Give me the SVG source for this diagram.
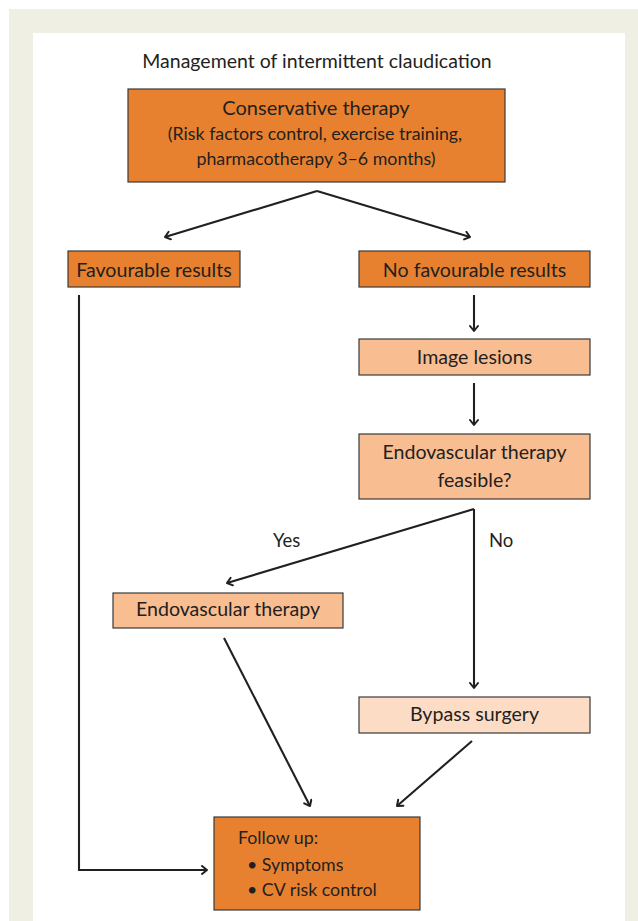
<svg xmlns="http://www.w3.org/2000/svg" width="638" height="921" viewBox="0 0 638 921">
<defs>
<marker id="ah" markerUnits="userSpaceOnUse" markerWidth="12" markerHeight="12" refX="7" refY="5" orient="auto">
<path d="M2,1 L7,5 L2,9" fill="none" stroke="#231f20" stroke-width="2" stroke-linecap="round" stroke-linejoin="round"/>
</marker>
<style>
.box{stroke:#3a3a3a;stroke-width:1.2}
.o{fill:#e8812f}
.p{fill:#f9bd92}
.q{fill:#fcdcc5}
.t{font-family:Lato,"Open Sans",sans-serif;fill:#231f20;font-size:19.6px}
.c{text-anchor:middle}
.s{font-size:17.8px}
.ln{fill:none;stroke:#231f20;stroke-width:2.1;marker-end:url(#ah)}
</style>
</defs>
<rect x="0" y="0" width="638" height="921" fill="#ffffff"/>
<rect x="9" y="9" width="629" height="912" fill="#efefe4"/>
<rect x="33" y="33" width="592" height="888" fill="#ffffff"/>
<text class="t c" x="317" y="68" style="font-size:19.5px">Management of intermittent claudication</text>
<g id="conservative">
<rect class="box o" x="128" y="89" width="377" height="93"/>
<text class="t c" x="316" y="115" style="font-size:20px">Conservative therapy</text>
<text class="t c s" x="315" y="140">(Risk factors control, exercise training,</text>
<text class="t c s" x="316" y="165">pharmacotherapy 3–6 months)</text>
</g>
<g id="favourable">
<rect class="box o" x="68" y="251" width="172" height="36"/>
<text class="t c" x="154" y="277">Favourable results</text>
</g>
<g id="nofavourable">
<rect class="box o" x="359" y="251" width="231" height="36"/>
<text class="t c" x="474.5" y="277">No favourable results</text>
</g>
<g id="image">
<rect class="box p" x="359" y="339" width="231" height="36"/>
<text class="t c" x="474.5" y="364">Image lesions</text>
</g>
<g id="feasible">
<rect class="box p" x="359" y="434" width="231" height="65"/>
<text class="t c" x="474.5" y="459">Endovascular therapy</text>
<text class="t c" x="474.5" y="487">feasible?</text>
</g>
<g id="endovascular">
<rect class="box p" x="113" y="593" width="230" height="35"/>
<text class="t c" x="228" y="616">Endovascular therapy</text>
</g>
<g id="bypass">
<rect class="box q" x="359" y="697" width="231" height="36"/>
<text class="t c" x="474.5" y="721">Bypass surgery</text>
</g>
<g id="followup">
<rect class="box o" x="214" y="817" width="206" height="93"/>
<text class="t s" x="238" y="844">Follow up:</text>
<text class="t s" x="247" y="871">• Symptoms</text>
<text class="t s" x="247" y="896">• CV risk control</text>
</g>
<g id="connectors">
<path class="ln" d="M317,191 L165,237"/>
<path class="ln" d="M317,191 L470,237"/>
<path class="ln" d="M474,295 L474,331"/>
<path class="ln" d="M474,383 L474,425"/>
<path class="ln" d="M474,509 L227,583"/>
<path class="ln" d="M474,509 L474,688"/>
<path class="ln" d="M224,638 L310,806"/>
<path class="ln" d="M472,741 L397,806"/>
<path class="ln" d="M79,295 L79,870 L207,870"/>
<text class="t" x="273" y="547" style="font-size:18.5px">Yes</text>
<text class="t" x="489" y="547" style="font-size:18.5px">No</text>
</g>
</svg>
